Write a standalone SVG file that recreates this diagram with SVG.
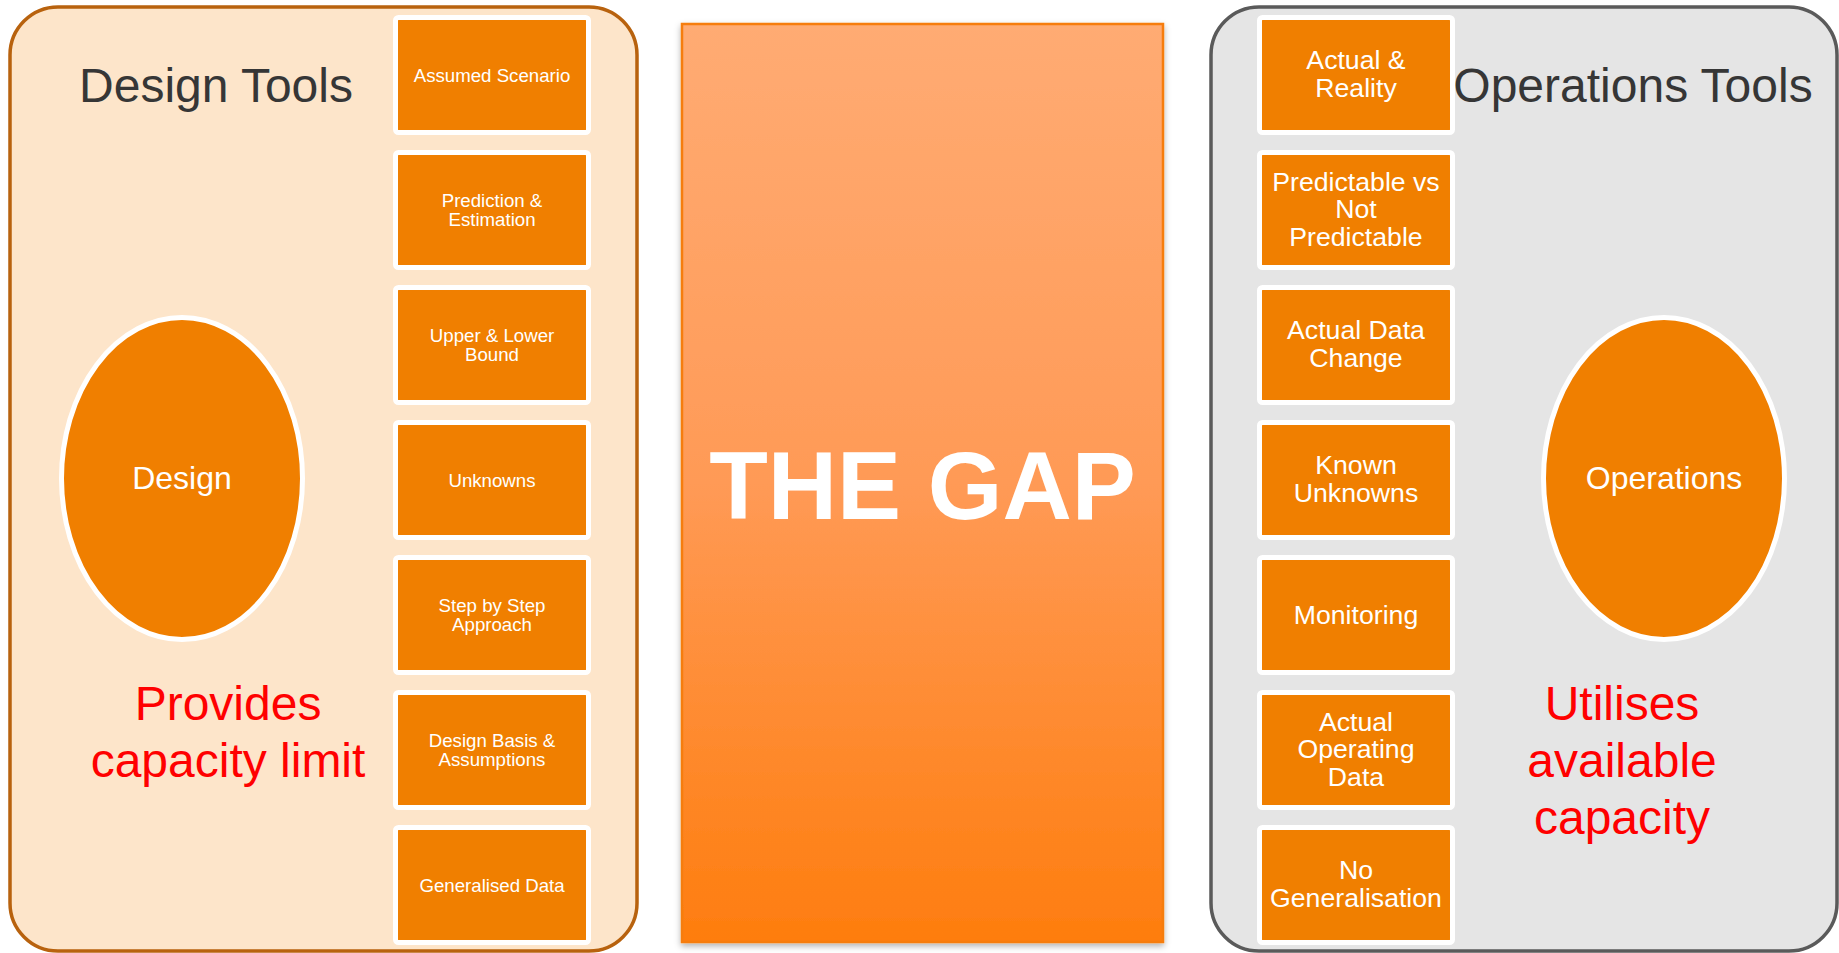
<svg xmlns="http://www.w3.org/2000/svg" width="1839" height="953" viewBox="0 0 1839 953">
  <defs>
    <linearGradient id="gapFill" x1="0" y1="0" x2="0" y2="1">
      <stop offset="0" stop-color="#FFAB73"/>
      <stop offset="0.5" stop-color="#FF9A56"/>
      <stop offset="1" stop-color="#FE7D0E"/>
    </linearGradient>
    <filter id="softShadow" x="-5%" y="-5%" width="110%" height="110%">
      <feDropShadow dx="0" dy="3" stdDeviation="3" flood-color="#000" flood-opacity="0.3"/>
    </filter>
    <style>
      .panel-design { fill: #FDE5CA; stroke: #B8620E; stroke-width: 3.5; }
      .panel-ops { fill: #E5E5E5; stroke: #5A5A5A; stroke-width: 3.5; }
      .tool { fill: #F07F00; stroke: #FFFFFF; stroke-width: 5; }
      .hub { fill: #F07F00; stroke: #FFFFFF; stroke-width: 5; }
      .title { font-family: "Liberation Sans", Arial, sans-serif; font-size: 48px; fill: #363636; text-anchor: middle; }
      .lbl-s { font-family: "Liberation Sans", Arial, sans-serif; font-size: 18.67px; fill: #FFFFFF; text-anchor: middle; }
      .lbl-l { font-family: "Liberation Sans", Arial, sans-serif; font-size: 26.67px; fill: #FFFFFF; text-anchor: middle; }
      .hub-lbl { font-family: "Liberation Sans", Arial, sans-serif; font-size: 32px; fill: #FFFFFF; text-anchor: middle; }
      .note { font-family: "Liberation Sans", Arial, sans-serif; font-size: 48px; fill: #FF0000; text-anchor: middle; }
      .gap-lbl { font-family: "Liberation Sans", Arial, sans-serif; font-size: 96px; font-weight: bold; fill: #FFFFFF; text-anchor: middle; }
    </style>
  </defs>

  <!-- Design side panel -->
  <g id="design-panel">
    <rect class="panel-design" x="10" y="7" width="627" height="944" rx="48" ry="48"/>
    <text class="title" x="216" y="102">Design Tools</text>
    <text class="note" x="228" y="720">Provides</text>
    <text class="note" x="228" y="777">capacity limit</text>
  </g>

  <g id="design-hub">
    <ellipse class="hub" cx="182" cy="478.5" rx="120.5" ry="161"/>
    <text class="hub-lbl" x="182" y="489">Design</text>
  </g>

  <!-- Design tool boxes -->
  <g id="d-assumed-scenario">
    <rect class="tool" x="395.5" y="17.5" width="193" height="115" rx="3"/>
    <text class="lbl-s" x="492" y="81.7">Assumed Scenario</text>
  </g>
  <g id="d-prediction">
    <rect class="tool" x="395.5" y="152.5" width="193" height="115" rx="3"/>
    <text class="lbl-s" x="492" y="207.3">Prediction &amp;</text>
    <text class="lbl-s" x="492" y="226">Estimation</text>
  </g>
  <g id="d-bounds">
    <rect class="tool" x="395.5" y="287.5" width="193" height="115" rx="3"/>
    <text class="lbl-s" x="492" y="342.3">Upper &amp; Lower</text>
    <text class="lbl-s" x="492" y="361">Bound</text>
  </g>
  <g id="d-unknowns">
    <rect class="tool" x="395.5" y="422.5" width="193" height="115" rx="3"/>
    <text class="lbl-s" x="492" y="486.7">Unknowns</text>
  </g>
  <g id="d-step">
    <rect class="tool" x="395.5" y="557.5" width="193" height="115" rx="3"/>
    <text class="lbl-s" x="492" y="612.3">Step by Step</text>
    <text class="lbl-s" x="492" y="631">Approach</text>
  </g>
  <g id="d-basis">
    <rect class="tool" x="395.5" y="692.5" width="193" height="115" rx="3"/>
    <text class="lbl-s" x="492" y="747.3">Design Basis &amp;</text>
    <text class="lbl-s" x="492" y="766">Assumptions</text>
  </g>
  <g id="d-generalised">
    <rect class="tool" x="395.5" y="827.5" width="193" height="115" rx="3"/>
    <text class="lbl-s" x="492" y="891.7">Generalised Data</text>
  </g>

  <!-- Central gap block -->
  <g id="the-gap">
    <rect x="682" y="24" width="481" height="918" fill="url(#gapFill)" stroke="#F67D0C" stroke-width="2.5" filter="url(#softShadow)"/>
    <text class="gap-lbl" x="922.5" y="519">THE GAP</text>
  </g>

  <!-- Operations side panel -->
  <g id="ops-panel">
    <rect class="panel-ops" x="1211" y="7" width="626" height="944" rx="48" ry="48"/>
    <text class="title" x="1633" y="102">Operations Tools</text>
    <text class="note" x="1622" y="720">Utilises</text>
    <text class="note" x="1622" y="777">available</text>
    <text class="note" x="1622" y="834">capacity</text>
  </g>

  <g id="ops-hub">
    <ellipse class="hub" cx="1664" cy="478.5" rx="120.5" ry="161"/>
    <text class="hub-lbl" x="1664" y="489">Operations</text>
  </g>

  <!-- Operations tool boxes -->
  <g id="o-actual-reality">
    <rect class="tool" x="1259.5" y="17.5" width="193" height="115" rx="3"/>
    <text class="lbl-l" x="1356" y="69.3">Actual &amp;</text>
    <text class="lbl-l" x="1356" y="96.8">Reality</text>
  </g>
  <g id="o-predictable">
    <rect class="tool" x="1259.5" y="152.5" width="193" height="115" rx="3"/>
    <text class="lbl-l" x="1356" y="190.5">Predictable vs</text>
    <text class="lbl-l" x="1356" y="218">Not</text>
    <text class="lbl-l" x="1356" y="245.5">Predictable</text>
  </g>
  <g id="o-data-change">
    <rect class="tool" x="1259.5" y="287.5" width="193" height="115" rx="3"/>
    <text class="lbl-l" x="1356" y="339.3">Actual Data</text>
    <text class="lbl-l" x="1356" y="366.8">Change</text>
  </g>
  <g id="o-known-unknowns">
    <rect class="tool" x="1259.5" y="422.5" width="193" height="115" rx="3"/>
    <text class="lbl-l" x="1356" y="474.3">Known</text>
    <text class="lbl-l" x="1356" y="501.8">Unknowns</text>
  </g>
  <g id="o-monitoring">
    <rect class="tool" x="1259.5" y="557.5" width="193" height="115" rx="3"/>
    <text class="lbl-l" x="1356" y="624">Monitoring</text>
  </g>
  <g id="o-operating-data">
    <rect class="tool" x="1259.5" y="692.5" width="193" height="115" rx="3"/>
    <text class="lbl-l" x="1356" y="730.5">Actual</text>
    <text class="lbl-l" x="1356" y="758">Operating</text>
    <text class="lbl-l" x="1356" y="785.5">Data</text>
  </g>
  <g id="o-no-generalisation">
    <rect class="tool" x="1259.5" y="827.5" width="193" height="115" rx="3"/>
    <text class="lbl-l" x="1356" y="879.3">No</text>
    <text class="lbl-l" x="1356" y="906.8">Generalisation</text>
  </g>

  <!-- No connectors are drawn between nodes -->
  <g id="connectors"/>
</svg>
